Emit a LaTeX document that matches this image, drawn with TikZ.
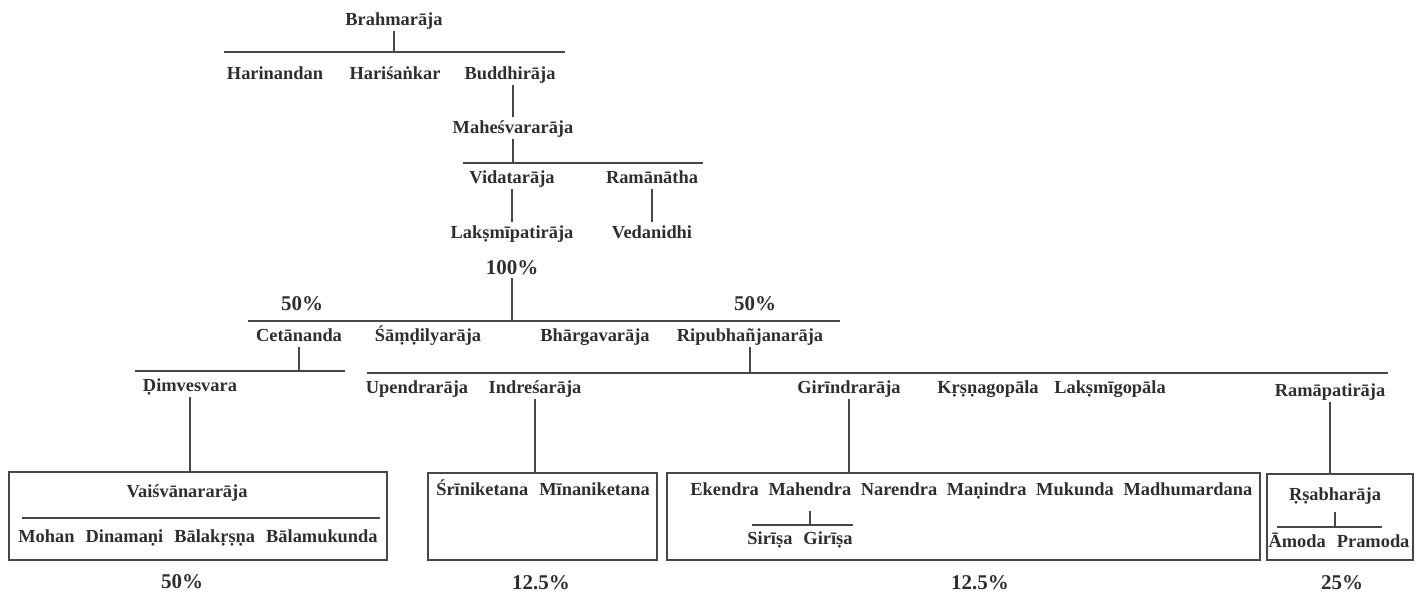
\documentclass[tikz,border=0pt]{standalone}
\usepackage{fontspec}
\setmainfont{Liberation Serif}
\usetikzlibrary{positioning, fit}
\definecolor{InkGray}{HTML}{2E2E2E}
\definecolor{LineGray}{HTML}{474747}
\newcommand{\gap}{\hspace{0.6em}}

\begin{document}
\begin{tikzpicture}[
  x=0.5pt, y=-0.5pt,
  person/.style={font=\bfseries\fontsize{9.2}{11}\selectfont, text=InkGray,
    inner sep=1pt, text height=7pt, text depth=2pt},
  pct/.style={font=\bfseries\fontsize{10.5}{12}\selectfont, text=InkGray,
    inner sep=1pt, text height=8pt, text depth=1pt},
  branch/.style={draw=LineGray, line width=0.9pt},
  famblock/.style={draw=LineGray, line width=1.2pt, inner sep=0pt}
]
  \useasboundingbox (0,0) rectangle (1422,595);

  % Brahmaraja and sons
  \node[person] (brahma) at (394,20) {Brahmarāja};
  \coordinate (r1w) at (224,52);
  \coordinate (r1e) at (565,52);
  \draw[branch] (r1w) -- (r1e);
  \draw[branch] (brahma.south) -- (brahma.south |- r1w);
  \node[person] (harinandan) at (275,74) {Harinandan};
  \node[person] (harisankar) at (395,74) {Hariśaṅkar};
  \node[person] (buddhi) at (510,74) {Buddhirāja};
  \node[person] (mahesvara) at (513,128) {Maheśvararāja};
  \draw[branch] (mahesvara.north) -- (mahesvara.north |- buddhi.south);

  % Vidataraja line
  \coordinate (r2w) at (463,163);
  \coordinate (r2e) at (703,163);
  \draw[branch] (r2w) -- (r2e);
  \draw[branch] (mahesvara.south) -- (mahesvara.south |- r2w);
  \node[person] (vidata) at (512,178) {Vidatarāja};
  \node[person] (ramanatha) at (652,178) {Ramānātha};
  \node[person] (laksmipati) at (512,233) {Lakṣmīpatirāja};
  \node[person] (vedanidhi) at (652,233) {Vedanidhi};
  \draw[branch] (vidata.south) -- (laksmipati.north);
  \draw[branch] (ramanatha.south) -- (vedanidhi.north);
  \node[pct] (pcttop) at (512,267) {100\%};

  % Laksmipatiraja's sons
  \coordinate (r3w) at (248,321);
  \coordinate (r3e) at (840,321);
  \draw[branch] (r3w) -- (r3e);
  \draw[branch] (pcttop.south) -- (pcttop.south |- r3w);
  \node[pct] (pcthalfa) at (302,303) {50\%};
  \node[pct] (pcthalfb) at (755,303) {50\%};
  \node[person] (cetananda) at (299,336) {Cetānanda};
  \node[person] (samdilya) at (428,336) {Śāṃḍilyarāja};
  \node[person] (bhargava) at (595,336) {Bhārgavarāja};
  \node[person] (ripu) at (750,336) {Ripubhañjanarāja};

  % Cetananda branch
  \coordinate (r4w) at (135,371);
  \coordinate (r4e) at (345,371);
  \draw[branch] (r4w) -- (r4e);
  \draw[branch] (cetananda.south) -- (cetananda.south |- r4w);
  \node[person] (dimvesvara) at (190,386) {Ḍimvesvara};

  % Ripubhanjanaraja branch
  \coordinate (r5w) at (367,373);
  \coordinate (r5e) at (1388,373);
  \draw[branch] (r5w) -- (r5e);
  \draw[branch] (ripu.south) -- (ripu.south |- r5w);
  \node[person] (upendra) at (417,388) {Upendrarāja};
  \node[person] (indresa) at (535,388) {Indreśarāja};
  \node[person] (girindra) at (849,388) {Girīndrarāja};
  \node[person] (krsna) at (988,388) {Kṛṣṇagopāla};
  \node[person] (laksmigopa) at (1110,388) {Lakṣmīgopāla};
  \node[person] (ramapati) at (1330,391) {Ramāpatirāja};

  % Family boxes
  \node[famblock, fit={(9,472) (387,560)}] (boxa) {};
  \node[famblock, fit={(428,473) (657,560)}] (boxb) {};
  \node[famblock, fit={(667,473) (1260,560)}] (boxc) {};
  \node[famblock, fit={(1267,474) (1413,560)}] (boxd) {};
  \draw[branch] (dimvesvara.south) -- (dimvesvara.south |- boxa.north);
  \draw[branch] (indresa.south) -- (indresa.south |- boxb.north);
  \draw[branch] (girindra.south) -- (girindra.south |- boxc.north);
  \draw[branch] (ramapati.south) -- (ramapati.south |- boxd.north);

  % Box a
  \node[person] (vaisvanara) at (187,492) {Vaiśvānararāja};
  \coordinate (r6w) at (22,518);
  \coordinate (r6e) at (380,518);
  \draw[branch] (r6w) -- (r6e);
  \node[person] (sonsa) at (198,537) {Mohan\gap Dinamaṇi\gap Bālakṛṣṇa\gap Bālamukunda};

  % Box b
  \node[person] (sonsb) at (543,490) {Śrīniketana\gap Mīnaniketana};

  % Box c
  \node[person, anchor=west] (ekendra) at (688,490) {Ekendra};
  \node[person, right=2.4pt of ekendra] (mahendra) {Mahendra};
  \node[person, right=2.4pt of mahendra] (narendra) {Narendra};
  \node[person, right=2.4pt of narendra] (manindra) {Maṇindra};
  \node[person, right=2.4pt of manindra] (mukunda) {Mukunda};
  \node[person, right=2.4pt of mukunda] (madhu) {Madhumardana};
  \coordinate (r7w) at (752,525);
  \coordinate (r7e) at (853,525);
  \draw[branch] (r7w) -- (r7e);
  \draw[branch, shorten <=5pt] (mahendra.south) -- (mahendra.south |- r7w);
  \node[person] (sirisa) at (800,539) {Sirīṣa\gap Girīṣa};

  % Box d
  \node[person] (rsabha) at (1335,495) {Ṛṣabharāja};
  \coordinate (r8w) at (1277,527);
  \coordinate (r8e) at (1382,527);
  \draw[branch] (r8w) -- (r8e);
  \draw[branch, shorten <=3pt] (rsabha.south) -- (rsabha.south |- r8w);
  \node[person] (amoda) at (1339,542) {Āmoda\gap Pramoda};

  % Shares
  \node[pct] (pcta) at (182,581) {50\%};
  \node[pct] (pctb) at (541,582) {12.5\%};
  \node[pct] (pctc) at (980,582) {12.5\%};
  \node[pct] (pctd) at (1342,582) {25\%};
\end{tikzpicture}
\end{document}
